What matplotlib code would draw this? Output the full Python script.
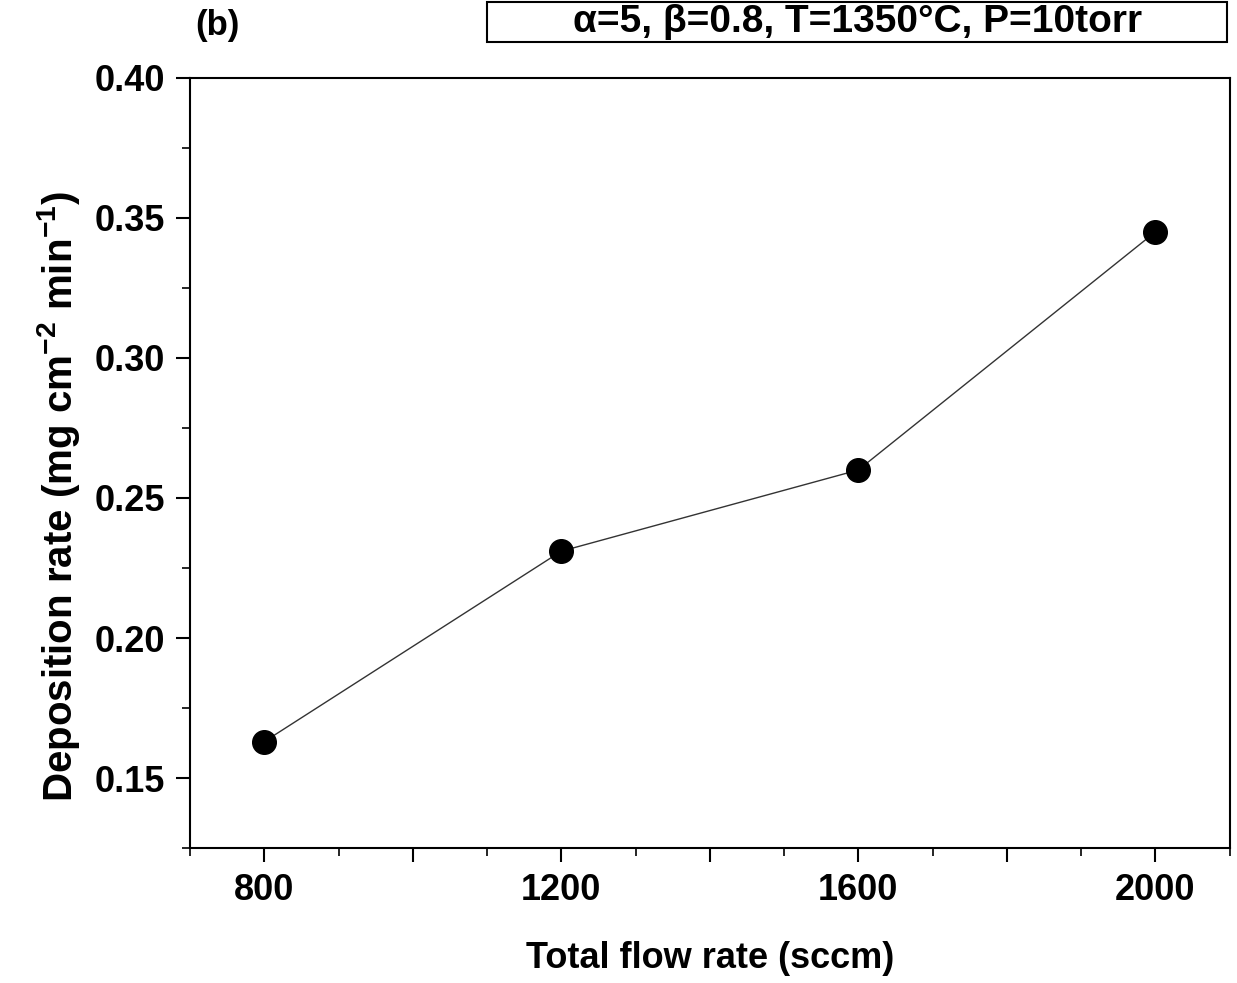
import matplotlib.pyplot as plt
from matplotlib.patches import Rectangle
from matplotlib.ticker import MultipleLocator, FixedLocator

plt.rcParams['font.family'] = ['Liberation Sans', 'DejaVu Sans']
plt.rcParams['font.weight'] = 'bold'
plt.rcParams['mathtext.fontset'] = 'custom'
plt.rcParams['mathtext.rm'] = 'Liberation Sans:bold'
plt.rcParams['mathtext.bf'] = 'Liberation Sans:bold'

# Данные: общий расход и скорость осаждения
flow_rate = [800, 1200, 1600, 2000]
deposition_rate = [0.163, 0.231, 0.260, 0.345]
x_tick_labels = [800, 1200, 1600, 2000]
y_tick_labels = [0.15, 0.20, 0.25, 0.30, 0.35, 0.40]

fig = plt.figure(figsize=(12.37, 9.83), dpi=100)
ax = fig.add_axes([0.1536, 0.1373, 0.8404, 0.7834])

ax.plot(flow_rate, deposition_rate, color='#333333', linewidth=1.0,
        marker='o', markersize=17, markerfacecolor='black', markeredgecolor='black')

ax.set_xlim(700, 2100)
ax.set_ylim(0.125, 0.40)

ax.xaxis.set_minor_locator(MultipleLocator(100))
ax.set_xticks(range(800, 2001, 200))
ax.set_xticklabels([str(v) if v in x_tick_labels else '' for v in range(800, 2001, 200)])
ax.yaxis.set_major_locator(FixedLocator(y_tick_labels))
ax.yaxis.set_minor_locator(MultipleLocator(0.025))
ax.set_yticklabels([f'{v:.2f}' for v in y_tick_labels])

ax.tick_params(axis='both', which='major', direction='out', length=10, width=1.5, labelsize=26, pad=8)
ax.tick_params(axis='both', which='minor', direction='out', length=6, width=1.2)
ax.tick_params(top=False, right=False)
for sp in ax.spines.values():
    sp.set_linewidth(1.5)

ax.set_xlabel('Total flow rate (sccm)', fontsize=26, fontweight='bold', labelpad=24)
ax.set_ylabel(r'Deposition rate (mg cm$^{-2}$ min$^{-1}$)', fontsize=29, fontweight='bold')
ax.yaxis.set_label_coords(-0.104, 0.456)

# Подпись панели и рамка с условиями
fig.text(0.158, 0.957, '(b)', fontsize=25, fontweight='bold', ha='left', va='bottom')
fig.patches.append(Rectangle((0.394, 0.9573), 0.598, 0.0407, transform=fig.transFigure,
                             fill=False, edgecolor='black', linewidth=1.5))
fig.text(0.693, 0.9776, 'α=5, β=0.8, T=1350°C, P=10torr', fontsize=28,
         fontweight='bold', ha='center', va='center')

plt.savefig('out.png', dpi=100)
